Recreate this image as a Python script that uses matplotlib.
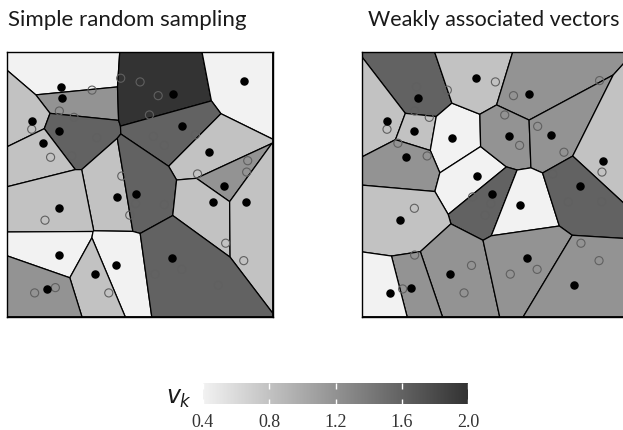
import numpy as np
import matplotlib
matplotlib.use("Agg")
from matplotlib import pyplot as plt
from matplotlib.colors import LinearSegmentedColormap, Normalize

# all 50 points in the unit square (same set in both panels)
px = [0.204, 0.208, 0.320, 0.197, 0.252, 0.093, 0.093, 0.195, 0.338, 0.134,
      0.164, 0.244, 0.428, 0.501, 0.432, 0.569, 0.626, 0.536, 0.893, 0.660,
      0.551, 0.592, 0.709, 0.759, 0.906, 0.902, 0.717, 0.415, 0.487, 0.484,
      0.462, 0.196, 0.143, 0.197, 0.411, 0.330, 0.383, 0.152, 0.182, 0.104,
      0.592, 0.818, 0.775, 0.901, 0.823, 0.891, 0.621, 0.658, 0.557, 0.795]
py = [0.869, 0.828, 0.857, 0.778, 0.754, 0.740, 0.709, 0.702, 0.677, 0.656,
      0.603, 0.608, 0.902, 0.888, 0.532, 0.836, 0.842, 0.763, 0.893, 0.720,
      0.682, 0.648, 0.688, 0.622, 0.590, 0.547, 0.540, 0.453, 0.465, 0.428,
      0.384, 0.410, 0.365, 0.233, 0.194, 0.160, 0.090, 0.105, 0.110, 0.090,
      0.424, 0.495, 0.434, 0.435, 0.278, 0.212, 0.223, 0.179, 0.161, 0.119]

# seeds (indices into the points) and the v_k of their cells
srs_seeds = [0, 1, 5, 7, 9, 16, 18, 19, 23, 27, 28, 31, 33, 34, 35, 37, 41, 42, 43, 46]
srs_v = [0.4, 1.2, 0.8, 1.6, 0.8, 2.0, 0.4, 1.6, 0.8, 0.8,
         1.6, 0.8, 0.4, 0.4, 0.8, 1.2, 1.2, 0.8, 0.8, 1.6]
wav_seeds = [1, 5, 7, 8, 10, 12, 14, 16, 20, 22, 24, 28, 32, 35, 38, 39, 40, 41, 46, 49]
wav_v = [1.6, 0.8, 0.8, 0.4, 1.2, 0.8, 0.4, 1.2, 1.2, 1.2,
         0.8, 1.6, 0.8, 1.2, 1.2, 0.4, 0.4, 1.6, 1.2, 1.2]

titles = ["Simple random sampling", "Weakly associated vectors"]
cbar_ticks = [0.4, 0.8, 1.2, 1.6, 2.0]

cmap = LinearSegmentedColormap.from_list("greys", ["#f2f2f2", "#333333"])
norm = Normalize(0.4, 2.0)


def clip(poly, a, b):
    # keep the part of poly with a . p <= b
    out = []
    n = len(poly)
    for i in range(n):
        p, q = poly[i], poly[(i + 1) % n]
        fp, fq = a @ p - b, a @ q - b
        if fp <= 0:
            out.append(p)
        if fp * fq < 0:
            t = fp / (fp - fq)
            out.append(p + t * (q - p))
    return out


def voronoi_cells(seeds):
    cells = []
    for i, s in enumerate(seeds):
        poly = [np.array(c, float) for c in [(0, 0), (1, 0), (1, 1), (0, 1)]]
        for j, o in enumerate(seeds):
            if i == j:
                continue
            a = o - s
            b = (o @ o - s @ s) / 2
            poly = clip(poly, a, b)
        cells.append(np.array(poly))
    return cells


pts = np.column_stack([px, py])

fig = plt.figure(figsize=(6.23, 4.30), dpi=100)
W, H = 623, 430
rects = [(7, 52.3), (362.3, 52.3)]
pw, ph = 265.7, 264.4

for k, (seeds, vals) in enumerate([(srs_seeds, srs_v), (wav_seeds, wav_v)]):
    x0, y0 = rects[k]
    ax = fig.add_axes([x0 / W, 1 - (y0 + ph) / H, pw / W, ph / H])
    cells = voronoi_cells(pts[seeds])
    for cell, v in zip(cells, vals):
        ax.fill(cell[:, 0], cell[:, 1], facecolor=cmap(norm(v)),
                edgecolor="black", linewidth=0.9)
    others = [i for i in range(len(px)) if i not in seeds]
    ax.scatter(pts[others, 0], pts[others, 1], s=34, facecolor="none",
               edgecolor="#606060", linewidth=0.8, zorder=3)
    ax.scatter(pts[seeds, 0], pts[seeds, 1], s=26, color="black", zorder=4)
    ax.set_xlim(0, 1)
    ax.set_ylim(0, 1)
    ax.set_xticks([])
    ax.set_yticks([])
    for sp in ax.spines.values():
        sp.set_linewidth(1.0)

fig.text(8 / W, 1 - 26 / H, titles[0], fontsize=16, family="Lato",
         color="#1a1a1a", va="baseline", ha="left")
fig.text(368 / W, 1 - 26 / H, titles[1], fontsize=15.5, family="Lato",
         color="#1a1a1a", va="baseline", ha="left")

# colour bar
cax = fig.add_axes([203 / W, 1 - 404.5 / H, 265 / W, 22 / H])
grad = np.linspace(0.4, 2.0, 256).reshape(1, -1)
cax.imshow(grad, cmap=cmap, norm=norm, aspect="auto", extent=[0.4, 2.0, 0, 1])
cax.set_xlim(0.4, 2.0)
cax.set_yticks([])
cax.set_xticks(cbar_ticks)
cax.set_xticklabels([f"{t:.1f}" for t in cbar_ticks], family="Liberation Serif",
                    fontsize=13, color="#333333")
cax.tick_params(axis="x", direction="in", length=4, width=1, color="white",
                top=True, pad=7)
for sp in cax.spines.values():
    sp.set_visible(False)
fig.text(179 / W, 1 - 398 / H, r"$v_k$", fontsize=17, ha="center",
         va="center", color="#1a1a1a")

fig.savefig("out.png", dpi=100)
